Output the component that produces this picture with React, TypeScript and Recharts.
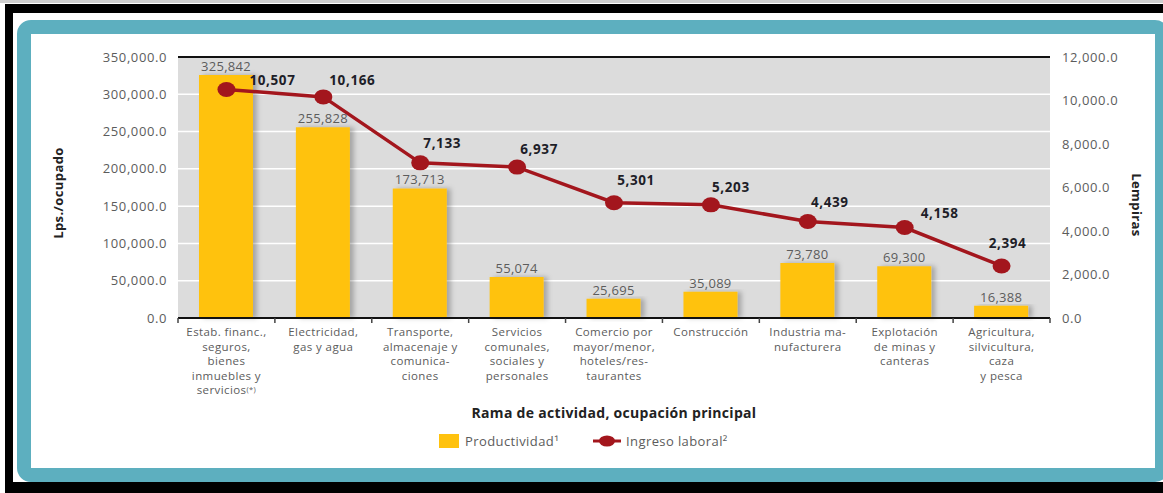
import {
  ComposedChart,
  Bar,
  Line,
  XAxis,
  YAxis,
  CartesianGrid,
  ReferenceLine,
  LabelList,
  Legend,
} from 'recharts'

const categories = [
  'Estab. financ.,\nseguros,\nbienes\ninmuebles y\nservicios(*)',
  'Electricidad,\ngas y agua',
  'Transporte,\nalmacenaje y\ncomunica-\nciones',
  'Servicios\ncomunales,\nsociales y\npersonales',
  'Comercio por\nmayor/menor,\nhoteles/res-\ntaurantes',
  'Construcción',
  'Industria ma-\nnufacturera',
  'Explotación\nde minas y\ncanteras',
  'Agricultura,\nsilvicultura,\ncaza\ny pesca',
]
const productividad = [325842, 255828, 173713, 55074, 25695, 35089, 73780, 69300, 16388]
const ingresoLaboral = [10507, 10166, 7133, 6937, 5301, 5203, 4439, 4158, 2394]
const leftTicks = [0, 50000, 100000, 150000, 200000, 250000, 300000, 350000]
const rightTicks = [0, 2000, 4000, 6000, 8000, 10000, 12000]

const data = categories.map((c, i) => ({
  categoria: c,
  productividad: productividad[i],
  ingreso: ingresoLaboral[i],
}))

const W = 1163
const H = 493
const LEFT_W = 178
const RIGHT_W = 113
const BAND = (W - LEFT_W - RIGHT_W) / categories.length

const FONT = '"Open Sans", sans-serif'
const GREY = '#5c5c5c'
const YELLOW = '#FFC20E'
const RED = '#A3161D'

// where each bold line label sits relative to its point
const lineLabelOffsets = [
  [46, -9],
  [29, -17],
  [22, -20],
  [22, -18],
  [22, -23],
  [20, -18],
  [22, -19],
  [35, -15],
  [6, -23],
]

const fmt1 = (v: number) =>
  v.toLocaleString('en-US', { minimumFractionDigits: 1, maximumFractionDigits: 1 })
const fmt0 = (v: number) => v.toLocaleString('en-US')

function CategoryTick(props: any) {
  const { x, y, payload, index } = props
  const lines: string[] = String(payload.value).split('\n')
  return (
    <g>
      <line x1={x - BAND / 2} x2={x - BAND / 2} y1={y} y2={y + 5} stroke="#444" strokeWidth={1.5} />
      {index === categories.length - 1 && (
        <line x1={x + BAND / 2} x2={x + BAND / 2} y1={y} y2={y + 5} stroke="#444" strokeWidth={1.5} />
      )}
      <text x={x} y={y + 18} textAnchor="middle" fill={GREY} fontSize={11.5} fontFamily={FONT} letterSpacing={0.4}>
        {lines.map((l, i) => {
          const star = l.endsWith('(*)')
          return (
            <tspan key={i} x={x} dy={i === 0 ? 0 : 14.5}>
              {star ? l.replace('(*)', '') : l}
              {star && (
                <tspan fontSize={7.5} baselineShift={2}>
                  (*)
                </tspan>
              )}
            </tspan>
          )
        })}
      </text>
    </g>
  )
}

function Dot(props: any) {
  const { cx, cy } = props
  if (cx == null || cy == null) return null
  return <ellipse cx={cx} cy={cy} rx={9} ry={7.5} fill={RED} />
}

function LineValue(props: any) {
  const { x, y, value, index } = props
  const [dx, dy] = lineLabelOffsets[index] || [20, -20]
  return (
    <text
      x={x + dx}
      y={y + dy}
      textAnchor="middle"
      dominantBaseline="central"
      fontFamily={FONT}
      fontWeight={700}
      fontSize={13.5}
      letterSpacing={0.6}
      fill="#1e1e28"
    >
      {fmt0(value)}
    </text>
  )
}

function LegendContent() {
  return (
    <div
      style={{
        display: 'flex',
        alignItems: 'center',
        marginLeft: 439,
        height: 22,
        fontFamily: FONT,
        fontSize: 13,
        color: GREY,
        letterSpacing: 0.4,
      }}
    >
      <span style={{ width: 20, height: 14, background: YELLOW, display: 'inline-block' }} />
      <span style={{ marginLeft: 6 }}>Productividad¹</span>
      <svg width={28} height={14} style={{ marginLeft: 34 }}>
        <line x1={0} x2={28} y1={7} y2={7} stroke={RED} strokeWidth={3} />
        <ellipse cx={14} cy={7} rx={8} ry={5.5} fill={RED} />
      </svg>
      <span style={{ marginLeft: 5 }}>Ingreso laboral²</span>
    </div>
  )
}

export default function App() {
  return (
    <div style={{ position: 'absolute', left: 0, top: 0, width: W, height: H, overflow: 'hidden', background: '#fff' }}>
      <div style={{ position: 'absolute', left: 0, top: 0, width: W, height: 3, background: '#cfcfcf' }} />
      <div
        style={{
          position: 'absolute',
          left: 5,
          top: 4,
          right: 0,
          bottom: 0,
          borderTop: '9px solid #000',
          borderLeft: '8px solid #000',
          borderBottom: '11px solid #000',
        }}
      />
      <div
        style={{
          position: 'absolute',
          left: 17,
          top: 20,
          width: 1152,
          height: 462,
          boxSizing: 'border-box',
          border: '14px solid #5DAFBF',
          borderRadius: 14,
        }}
      />
      <div style={{ position: 'absolute', left: 0, top: 0 }}>
        <ComposedChart
          width={W}
          height={H}
          data={data}
          margin={{ top: 57, right: 0, bottom: 0, left: 0 }}
          barCategoryGap="23%"
        >
          <defs>
            <filter id="barShadow" x="-20%" y="-10%" width="150%" height="130%">
              <feDropShadow dx={4} dy={0} stdDeviation={2.5} floodColor="#000" floodOpacity={0.25} />
            </filter>
          </defs>
          <CartesianGrid yAxisId="left" vertical={false} stroke="#fff" strokeWidth={1.5} fill="#dcdcdc" />
          <XAxis
            dataKey="categoria"
            interval={0}
            height={175}
            tickSize={0}
            tickMargin={0}
            tickLine={false}
            axisLine={{ stroke: '#111', strokeWidth: 2 }}
            tick={<CategoryTick />}
            label={{
              content: (p: any) => (
                <text
                  x={p.viewBox.x + p.viewBox.width / 2}
                  y={p.viewBox.y + 100}
                  textAnchor="middle"
                  fontFamily={FONT}
                  fontWeight={700}
                  fontSize={14}
                  letterSpacing={0.3}
                  fill="#222"
                >
                  Rama de actividad, ocupación principal
                </text>
              ),
            }}
          />
          <YAxis
            yAxisId="left"
            width={LEFT_W}
            domain={[0, 350000]}
            ticks={leftTicks}
            tickFormatter={fmt1}
            axisLine={false}
            tickLine={false}
            tickSize={0}
            tickMargin={11}
            tick={{ fill: GREY, fontSize: 13, fontFamily: FONT, letterSpacing: 0.6 }}
            label={{
              content: () => (
                <text
                  x={58}
                  y={193}
                  transform="rotate(-90 58 193)"
                  textAnchor="middle"
                  dominantBaseline="central"
                  fontFamily={FONT}
                  fontWeight={700}
                  fontSize={13}
                  letterSpacing={0.4}
                  fill="#222"
                >
                  Lps./ocupado
                </text>
              ),
            }}
          />
          <YAxis
            yAxisId="right"
            orientation="right"
            width={RIGHT_W}
            domain={[0, 12000]}
            ticks={rightTicks}
            tickFormatter={fmt1}
            axisLine={false}
            tickLine={false}
            tickSize={0}
            tickMargin={12}
            tick={{ fill: GREY, fontSize: 13, fontFamily: FONT, letterSpacing: 0.6, textAnchor: 'start' }}
            label={{
              content: () => (
                <text
                  x={1137}
                  y={205}
                  transform="rotate(90 1137 205)"
                  textAnchor="middle"
                  dominantBaseline="central"
                  fontFamily={FONT}
                  fontWeight={700}
                  fontSize={13}
                  letterSpacing={0.4}
                  fill="#222"
                >
                  Lempiras
                </text>
              ),
            }}
          />
          <ReferenceLine yAxisId="left" y={350000} stroke="#111" strokeWidth={2} />
          <Bar
            yAxisId="left"
            dataKey="productividad"
            name="Productividad"
            fill={YELLOW}
            barSize={54}
            filter="url(#barShadow)"
            isAnimationActive={false}
          >
            <LabelList
              dataKey="productividad"
              position="top"
              offset={4}
              formatter={(v: any) => fmt0(Number(v))}
              fill={GREY}
              fontSize={13}
              fontFamily={FONT}
              letterSpacing={0.3}
            />
          </Bar>
          <Line
            yAxisId="right"
            dataKey="ingreso"
            name="Ingreso laboral"
            stroke={RED}
            strokeWidth={3.5}
            dot={<Dot />}
            activeDot={false}
            isAnimationActive={false}
          >
            <LabelList dataKey="ingreso" content={<LineValue />} />
          </Line>
          <Legend
            layout="horizontal"
            verticalAlign="middle"
            align="center"
            wrapperStyle={{ top: 430, left: 0, width: W }}
            content={<LegendContent />}
          />
        </ComposedChart>
      </div>
    </div>
  )
}
